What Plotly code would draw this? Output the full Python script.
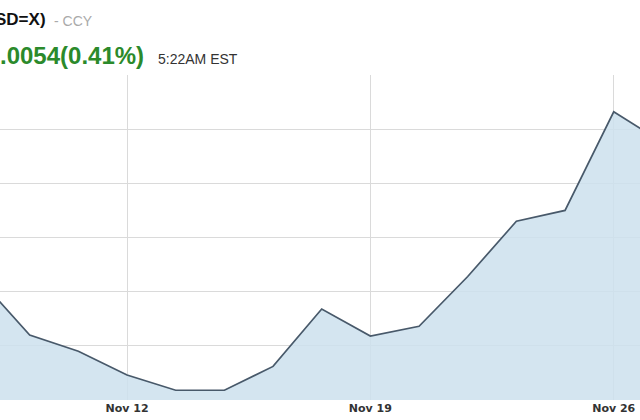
import plotly.graph_objects as go

# Trading days (index positions) and closing values
dates = ["Nov 7", "Nov 8", "Nov 9", "Nov 12", "Nov 13", "Nov 14", "Nov 15", "Nov 16",
         "Nov 19", "Nov 20", "Nov 21", "Nov 22", "Nov 23", "Nov 26", "Nov 27"]
values = [1.2760, 1.2710, 1.2695, 1.2673, 1.2659, 1.2659, 1.2681, 1.2734,
          1.2709, 1.2718, 1.2764, 1.2815, 1.2825, 1.2916, 1.2888]
tick_labels = ["Nov 12", "Nov 19", "Nov 26"]

x_idx = list(range(len(dates)))
tick_vals = [dates.index(t) for t in tick_labels]

W, H = 640, 420
T, B = 75, 20
plot_h = H - T - B


def py(pix):
    # convert pixel y (from top) to paper coordinate
    return (H - B - pix) / plot_h


fig = go.Figure()
fig.add_trace(go.Scatter(
    x=x_idx, y=values, mode="lines",
    line=dict(color="#48596a", width=1.7),
    fill="tozeroy", fillcolor="rgba(205,224,237,0.85)",
    hoverinfo="skip", showlegend=False,
))

fig.update_layout(
    width=W, height=H,
    margin=dict(l=0, r=0, t=T, b=B),
    paper_bgcolor="white", plot_bgcolor="white",
    xaxis=dict(
        range=[0.39, 13.54],
        tickmode="array", tickvals=tick_vals, ticktext=tick_labels,
        showgrid=True, gridcolor="#dadada", gridwidth=1,
        zeroline=False, showline=False, ticks="",
        tickfont=dict(family="DejaVu Sans", size=11, color="#333333", weight="bold"),
    ),
    yaxis=dict(
        range=[1.265, 1.295],
        tickmode="array", tickvals=[1.270, 1.275, 1.280, 1.285, 1.290, 1.295],
        showticklabels=False,
        showgrid=True, gridcolor="#dadada", gridwidth=1,
        zeroline=False, showline=False,
    ),
    annotations=[
        dict(text="<b>SD=X)</b>", x=-7 / W, y=py(20), xref="paper", yref="paper",
             xanchor="left", yanchor="middle", showarrow=False,
             font=dict(family="Liberation Sans", size=17, color="#111111")),
        dict(text="- CCY", x=52 / W, y=py(21), xref="paper", yref="paper",
             xanchor="left", yanchor="middle", showarrow=False,
             font=dict(family="Liberation Sans", size=14, color="#aaaaaa")),
        dict(text="<b>.0054(0.41%)</b>", x=-2 / W, y=py(56), xref="paper", yref="paper",
             xanchor="left", yanchor="middle", showarrow=False,
             font=dict(family="Liberation Sans", size=24, color="#2b8a2b")),
        dict(text="5:22AM EST", x=156 / W, y=py(59), xref="paper", yref="paper",
             xanchor="left", yanchor="middle", showarrow=False,
             font=dict(family="Liberation Sans", size=14, color="#333333")),
    ],
)

fig.write_html("out.html", config={"displayModeBar": False},
               post_script="document.body.style.margin='0';")
